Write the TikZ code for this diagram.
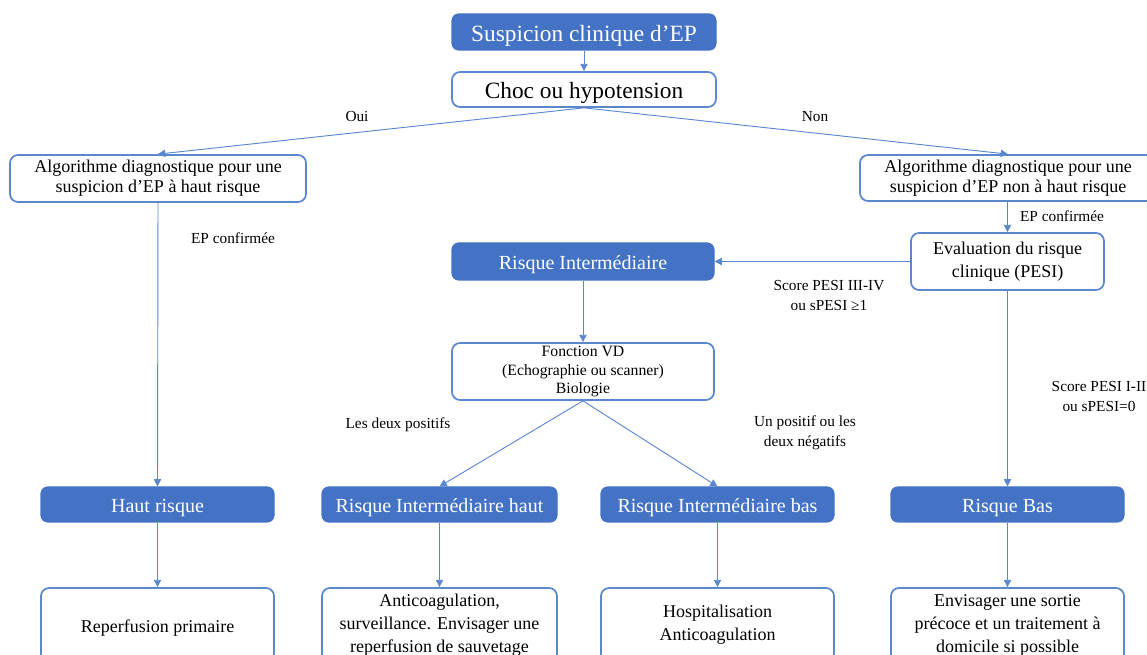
\documentclass[tikz,border=0pt]{standalone}
\usepackage{fontspec}
\setmainfont{Liberation Serif}
\usetikzlibrary{arrows.meta}
\definecolor{bfill}{HTML}{4472C4}
\definecolor{bline}{HTML}{5B87CF}
\newcommand{\hstrut}{\rule{0pt}{1.02em}}
\tikzset{
  filledbox/.style={draw=bfill, fill=bfill, text=white, rounded corners=5, line width=0.8, inner sep=0pt, align=center, font=\fontsize{15}{17}\selectfont, execute at begin node=\hstrut},
  whitebox/.style={draw=bline, fill=white, rounded corners=6, line width=1.3, inner sep=0pt, align=center, font=\fontsize{13.5}{17.25}\selectfont, execute at begin node=\hstrut},
  conn/.style={draw=bline, line width=0.7, -{Triangle[length=5.5,width=5.5]}},
  lab/.style={align=center, inner sep=0pt, font=\fontsize{11.5}{15}\selectfont}
}
\begin{document}
\begin{tikzpicture}[x=0.75pt, y=-0.75pt]
\useasboundingbox (0,0) rectangle (1147,655);
% nodes
\node[filledbox, minimum width=264*0.75pt, minimum height=36*0.75pt, font=\fontsize{17.5}{19}\selectfont] (susp) at (584,32) {Suspicion clinique d’EP};
\node[whitebox, minimum width=264*0.75pt, minimum height=35*0.75pt, font=\fontsize{17.5}{19}\selectfont] (choc) at (584,89.5) {Choc ou hypotension};
\node[whitebox, minimum width=296*0.75pt, minimum height=47*0.75pt, font=\fontsize{13.5}{15}\selectfont] (algoL) at (158,178.5) {Algorithme diagnostique pour une\\suspicion d’EP à haut risque};
\node[whitebox, minimum width=296*0.75pt, minimum height=46*0.75pt, font=\fontsize{13.5}{15}\selectfont] (algoR) at (1008,178) {Algorithme diagnostique pour une\\suspicion d’EP non à haut risque};
\node[whitebox, minimum width=193*0.75pt, minimum height=57*0.75pt] (eval) at (1007.5,261.5) {Evaluation du risque\\clinique (PESI)};
\node[filledbox, minimum width=262*0.75pt, minimum height=37*0.75pt] (ri) at (583,261.5) {Risque Intermédiaire};
\node[whitebox, minimum width=262*0.75pt, minimum height=57*0.75pt, font=\fontsize{11.8}{14.2}\selectfont] (fvd) at (583,371.5) {Fonction VD\\(Echographie ou scanner)\\Biologie};
\node[filledbox, minimum width=233*0.75pt, minimum height=35*0.75pt] (hr) at (157.5,504.5) {Haut risque};
\node[filledbox, minimum width=235*0.75pt, minimum height=35*0.75pt] (rih) at (439.5,504.5) {Risque Intermédiaire haut};
\node[filledbox, minimum width=233*0.75pt, minimum height=35*0.75pt] (rib) at (717.5,504.5) {Risque Intermédiaire bas};
\node[filledbox, minimum width=233*0.75pt, minimum height=35*0.75pt] (rb) at (1007.5,504.5) {Risque Bas};
\node[whitebox, minimum width=233*0.75pt, minimum height=74*0.75pt] (reperf) at (157.5,625) {Reperfusion primaire};
\node[whitebox, minimum width=235*0.75pt, minimum height=74*0.75pt] (antic) at (439.5,625) {Anticoagulation,\\surveillance. Envisager une\\reperfusion de sauvetage};
\node[whitebox, minimum width=233*0.75pt, minimum height=74*0.75pt] (hosp) at (717.5,625) {Hospitalisation\\Anticoagulation};
\node[whitebox, minimum width=233*0.75pt, minimum height=74*0.75pt] (env) at (1007.5,625) {Envisager une sortie\\précoce et un traitement à\\domicile si possible};
% labels
\node[lab] (loui) at (357,117) {Oui};
\node[lab] (lnon) at (815,117) {Non};
\node[lab] (lepl) at (233,238) {EP confirmée};
\node[lab] (lepr) at (1062,216) {EP confirmée};
\node[lab] (lpesi34) at (829,296) {Score PESI III-IV\\ou sPESI ≥1};
\node[lab] (ldeux) at (398,425) {Les deux positifs};
\node[lab] (lun) at (805,433) {Un positif ou les\\deux négatifs};
\node[lab] (lpesi12) at (1099,397) {Score PESI I-II\\ou sPESI=0};
% connectors
\draw[conn] (susp) -- (choc);
\draw[conn] (choc.south) -- (algoL.north);
\draw[conn] (choc.south) -- (algoR.north);
\draw[conn] (algoL.south) -- (hr.north);
\draw[conn] (eval.north |- algoR.south) -- (eval.north);
\draw[conn] (eval.west) -- (ri.east);
\draw[conn] (ri.south) -- (fvd.north);
\draw[conn] (fvd.south) -- (rih.north);
\draw[conn] (fvd.south) -- (rib.north);
\draw[conn] (eval.south) -- (rb.north);
\draw[conn] (hr) -- (reperf);
\draw[conn] (rih) -- (antic);
\draw[conn] (rib) -- (hosp);
\draw[conn] (rb) -- (env);
\end{tikzpicture}
\end{document}
